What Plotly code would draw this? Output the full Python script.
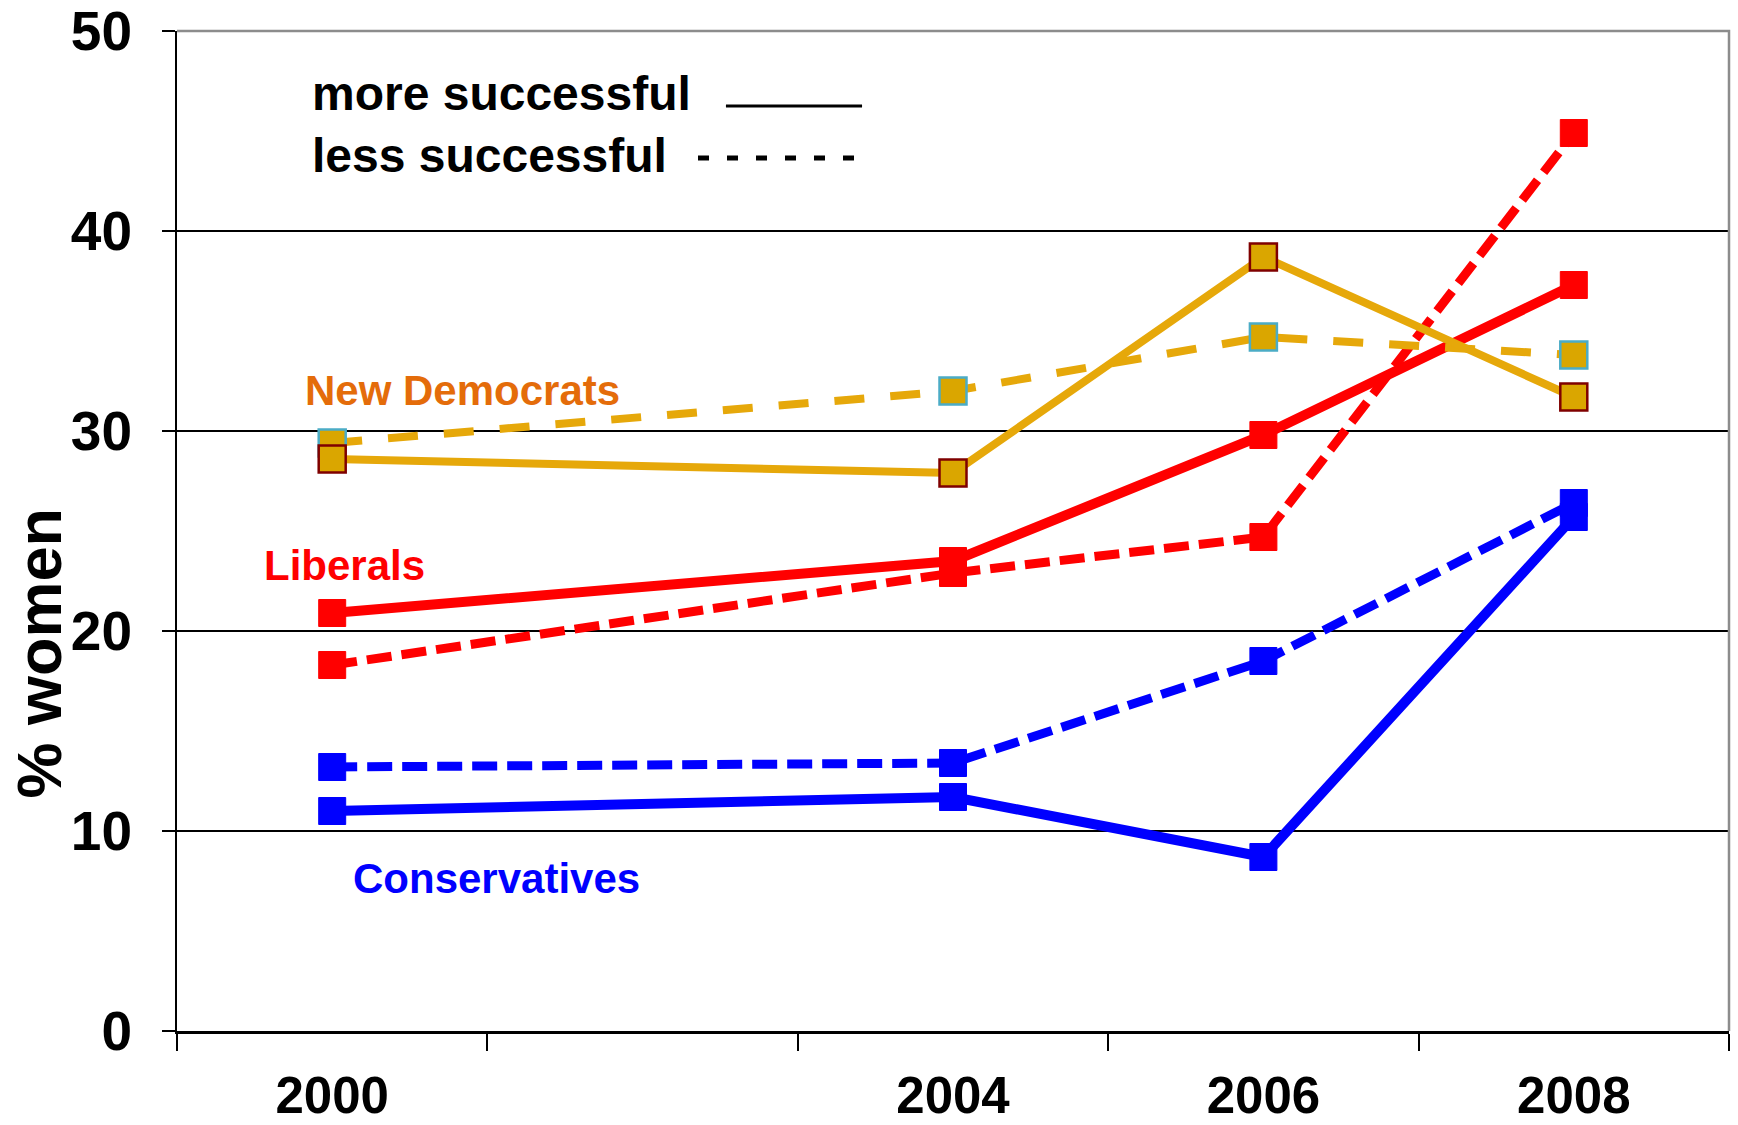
import plotly.graph_objects as go

# ---- data ----
years = [2000, 2004, 2006, 2008]
year_labels = ["2000", "2004", "2006", "2008"]
ndp_more = [28.6, 27.9, 38.7, 31.7]
ndp_less = [29.4, 32.0, 34.7, 33.8]
lib_more = [20.9, 23.5, 29.8, 37.3]
lib_less = [18.3, 22.9, 24.7, 44.9]
con_more = [11.0, 11.7, 8.7, 25.7]
con_less = [13.2, 13.4, 18.5, 26.4]
y_ticks = [0, 10, 20, 30, 40, 50]
minor_x_ticks = [1999, 2001, 2003, 2005, 2007, 2009]

FONT = "Arial, Liberation Sans, sans-serif"
GOLD_LINE = "#E6A80A"
GOLD_FILL = "#DAA600"
RED = "#FF0000"
BLUE = "#0000FF"

fig = go.Figure()

def add(y, color, dash, width, mfill, mline, mlw, name):
    fig.add_trace(go.Scatter(
        x=years, y=y, mode="lines+markers", name=name,
        line=dict(color=color, width=width, dash=dash),
        marker=dict(symbol="square", size=27, color=mfill,
                    line=dict(color=mline, width=mlw)),
        showlegend=False,
    ))

# Conservatives
add(con_less, BLUE, "25px,10px", 9, BLUE, BLUE, 1, "Conservatives less")
add(con_more, BLUE, "solid", 10, BLUE, BLUE, 1, "Conservatives more")
# Liberals
add(lib_less, RED, "25px,10px", 9, RED, RED, 1, "Liberals less")
add(lib_more, RED, "solid", 10, RED, RED, 1, "Liberals more")
# New Democrats
add(ndp_less, GOLD_LINE, "30px,26px", 8, GOLD_FILL, "#4BACC6", 2.5, "NDP less")
add(ndp_more, GOLD_LINE, "solid", 8, GOLD_FILL, "#7F0000", 2.5, "NDP more")

# party labels
party_labels = [
    ("New Democrats", "#E46C0A", 2000.84, 32.05),
    ("Liberals", RED, 2000.08, 23.3),
    ("Conservatives", BLUE, 2001.06, 7.65),
]
for txt, col, xx, yy in party_labels:
    fig.add_annotation(x=xx, y=yy, xref="x", yref="y", text=txt, showarrow=False,
                       font=dict(family=FONT, size=42, color=col, weight="bold"),
                       xanchor="center", yanchor="middle")

# legend text
fig.add_annotation(x=0.0857, y=0.937, xref="paper", yref="paper", text="more successful",
                   showarrow=False, xanchor="left", yanchor="middle",
                   font=dict(family=FONT, size=48, color="black", weight="bold"))
fig.add_annotation(x=0.0857, y=0.876, xref="paper", yref="paper", text="less successful",
                   showarrow=False, xanchor="left", yanchor="middle",
                   font=dict(family=FONT, size=48, color="black", weight="bold"))
# legend lines
fig.add_shape(type="line", xref="paper", yref="paper", x0=0.3537, x1=0.4414, y0=0.925, y1=0.925,
              line=dict(color="black", width=3))
fig.add_shape(type="line", xref="paper", yref="paper", x0=0.3357, x1=0.4414, y0=0.873, y1=0.873,
              line=dict(color="black", width=5, dash="11px,18px"))

# top/right gray border
fig.add_shape(type="path", xref="paper", yref="paper", path="M 0,1 L 1,1 L 1,0",
              line=dict(color="#8C8C8C", width=2.5), layer="above")

# y title
fig.add_annotation(x=-0.0892, y=18.9, xref="paper", yref="y", text="% women", textangle=-90,
                   showarrow=False, xanchor="center", yanchor="middle",
                   font=dict(family=FONT, size=63, color="black", weight="bold"))

fig.update_layout(
    width=1738, height=1125,
    margin=dict(l=177, r=9, t=31, b=94),
    paper_bgcolor="white", plot_bgcolor="white",
    font=dict(family=FONT, color="black"),
)
fig.update_xaxes(
    range=[1999, 2009], tickmode="array", tickvals=years, ticktext=year_labels,
    ticks="", showgrid=False, zeroline=False, automargin=False,
    showline=True, linecolor="black", linewidth=3,
    tickfont=dict(family=FONT, size=51, color="black", weight="bold"),
    ticklabelstandoff=18,
    minor=dict(tickmode="array", tickvals=minor_x_ticks, ticks="outside", ticklen=17,
               tickcolor="black", tickwidth=1.5, showgrid=False),
)
fig.update_yaxes(
    range=[0, 50], tickmode="array", tickvals=y_ticks, automargin=False,
    ticks="outside", ticklen=13, tickcolor="black", tickwidth=1.5,
    showgrid=True, gridcolor="black", gridwidth=1.5, zeroline=False,
    showline=True, linecolor="black", linewidth=2,
    tickfont=dict(family=FONT, size=55, color="black", weight="bold"),
    ticklabelstandoff=19,
)

fig.write_html("out.html")
